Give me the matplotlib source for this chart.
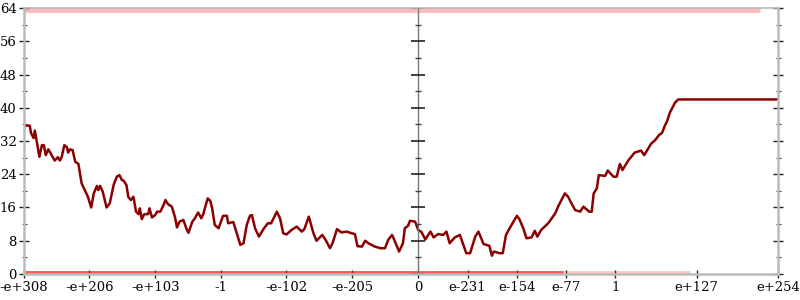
import matplotlib
matplotlib.use("Agg")
import matplotlib.pyplot as plt
import numpy as np

# x is measured in decades along the ordered float64 axis:
# 0 = -1e308, 616 = 0, 1178 = 1e254
tick_pos = [0, 102, 205, 308, 410, 513, 616, 693, 770, 847, 924, 1051, 1178]
tick_labels = ['-e+308', '-e+206', '-e+103', '-1', '-e-102', '-e-205', '0',
               'e-231', 'e-154', 'e-77', '1', 'e+127', 'e+254']

line_x = [0, 9, 11, 15, 17, 20, 24, 28, 31, 34, 38, 41, 48, 53, 56, 59, 63, 67, 69, 72,
          76, 80, 85, 90, 95, 100, 105, 109, 114, 116, 119, 123, 129, 134, 140, 145, 149,
          153, 156, 160, 163, 167, 171, 175, 179, 181, 184, 188, 194, 196, 200, 205, 208,
          213, 218, 221, 225, 231, 236, 239, 243, 249, 254, 257, 263, 267, 272, 277, 280,
          287, 291, 294, 298, 304, 311, 317, 319, 327, 334, 338, 343, 348, 353, 356, 361,
          367, 375, 381, 386, 390, 395, 400, 405, 410, 418, 426, 434, 438, 445, 452, 457,
          466, 472, 478, 482, 489, 496, 504, 512, 517, 521, 528, 533, 538, 548, 557, 564,
          569, 575, 578, 586, 592, 595, 600, 603, 611, 616, 621, 627, 635, 640, 647, 655,
          660, 665, 673, 681, 691, 697, 705, 710, 718, 727, 731, 734, 743, 748, 753, 758,
          770, 774, 780, 785, 793, 798, 802, 808, 819, 830, 835, 845, 850, 856, 861, 869,
          874, 883, 887, 890, 895, 898, 908, 912, 921, 926, 931, 935, 944, 954, 964, 969,
          980, 986, 992, 997, 1001, 1005, 1009, 1017, 1022, 1178]
line_y = [35.7, 35.7, 33.9, 32.7, 34.5, 31.8, 28.2, 31, 31, 28.6, 30, 29.2, 27.3, 28.1,
          27.3, 28.2, 31, 30.5, 29.2, 30, 29.8, 27, 26.5, 21.8, 20.2, 18.5, 16, 19.4, 21.2,
          20.2, 21.2, 19.8, 16, 17, 21.4, 23.4, 23.8, 22.6, 22.4, 21.4, 18.5, 17.8, 18.6,
          15, 14.4, 15.8, 13.2, 14.4, 14.4, 15.8, 13.6, 14.2, 15, 15, 16.6, 17.8, 16.8,
          16.2, 13.6, 11.2, 12.6, 13, 10.8, 9.9, 12.6, 13.4, 14.8, 13.4, 14.4, 18.2, 17.6,
          15.8, 11.8, 11, 14, 14, 12.2, 12.5, 9, 7, 7.4, 11.8, 14, 14.2, 11, 9, 11, 12.2,
          12.2, 13.4, 15, 13.4, 9.8, 9.5, 10.6, 11.4, 10.2, 10.8, 13.8, 9.9, 8, 9.4, 8,
          6.2, 7.4, 10.8, 10, 10.2, 9.8, 9.6, 6.7, 6.6, 8, 7.4, 6.6, 6.2, 6.2, 8.2, 9.4,
          8.4, 5.4, 7.4, 11, 11.6, 12.8, 12.6, 10.6, 10.1, 8.3, 10.2, 8.8, 9.6, 9.4, 10.2,
          7.4, 8.8, 9.4, 5, 5, 9, 10.2, 7.2, 6.8, 4.4, 5.4, 5, 5, 9.4, 10.8, 14, 13.2, 11,
          8.6, 8.8, 10.4, 9, 10.6, 12.2, 14.6, 16.4, 19.4, 18.6, 16.8, 15.4, 15, 16.2, 15,
          15, 19.4, 20.6, 23.8, 23.6, 24.9, 23.4, 23.4, 26.5, 25, 27.3, 29.2, 29.7, 28.6,
          31.4, 32.2, 33.4, 34, 35.6, 36.9, 38.8, 41.2, 42, 42]

# faint red point bands at the limits (start, end, y, alpha)
band_start = [0, 842, 0]
band_end = [842, 1040, 1150]
band_y = [0.3, 0.3, 63.5]
band_alpha = [0.75, 0.25, 0.3]

plt.rcParams['font.family'] = 'DejaVu Serif'

fig = plt.figure(figsize=(8, 3), dpi=100)
ax = fig.add_axes([0.03, 0.0867, 0.9425, 0.8866])

for s, e, y, a in zip(band_start, band_end, band_y, band_alpha):
    ax.plot([s, e], [y, y], color='#ff2020', lw=3.5, alpha=a, solid_capstyle='butt')

ax.plot(line_x, line_y, color='#8b0000', lw=1.8)

# center axis at zero
ax.axvline(616, color='#777777', lw=1)
yt = np.arange(0, 65, 8)
ym = np.arange(4, 65, 8)
ax.plot([616] * len(yt), yt, ls='none', marker='_', ms=10, mew=1.2, color='#222222')
ax.plot([616] * len(ym), ym, ls='none', marker='_', ms=5, mew=1, color='#444444')

ax.set_xlim(0, 1178)
ax.set_ylim(0, 64)
ax.set_yticks(yt)
ax.set_yticks(ym, minor=True)
ax.set_xticks(tick_pos)
ax.set_xticklabels(tick_labels)

for sp in ax.spines.values():
    sp.set_color('#bbbbbb')
    sp.set_linewidth(1.8)
ax.spines['top'].set_linewidth(1.2)

ax.tick_params(axis='y', which='major', direction='inout', length=7.5, width=1,
               right=True, labelright=False, labelsize=9.5, pad=1.5, color='#222222')
ax.tick_params(axis='y', which='minor', direction='inout', length=3.6, width=0.8,
               right=True, color='#444444')
ax.tick_params(axis='x', which='major', direction='inout', length=6, width=1,
               labelsize=9.5, pad=2, color='#222222')

fig.savefig('out.png', dpi=100)
